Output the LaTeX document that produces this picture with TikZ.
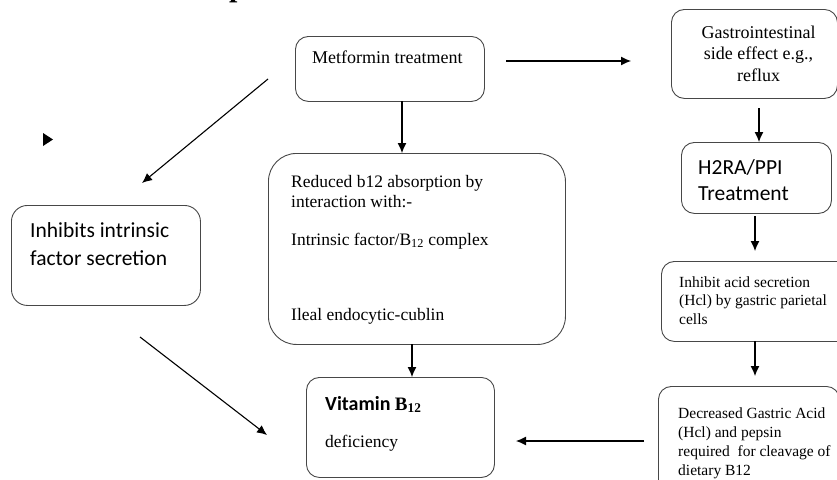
\documentclass[tikz,border=0pt]{standalone}
\usepackage{fontspec}
\setmainfont{Liberation Serif}
\newfontfamily\calfont{Carlito}
\usetikzlibrary{calc, positioning, arrows.meta}

\begin{document}
\begin{tikzpicture}[x=1pt, y=-1pt,
  box/.style = {draw=black!72, line width=0.9pt, rounded corners=13pt, inner sep=0pt, anchor=north west},
  txt/.style = {inner sep=0pt, anchor=base west, align=left},
  arr/.style = {-{Latex[length=10pt,width=9pt]}, line width=1.1pt}]
\clip (0,0) rectangle (837,479);
% boxes
\node[box, minimum width=189pt, minimum height=65pt] (met) at (295,36) {};
\node[box, minimum width=166pt, minimum height=89pt] (gi) at (671,9) {};
\node[box, minimum width=150pt, minimum height=71pt] (h2) at (681,142) {};
\node[box, minimum width=190pt, minimum height=80pt] (acid) at (661,261) {};
\node[box, minimum width=181pt, minimum height=110pt] (dec) at (658,386) {};
\node[box, rounded corners=28pt, minimum width=297pt, minimum height=191pt] (red) at (268,153) {};
\node[box, rounded corners=16pt, minimum width=189pt, minimum height=100pt] (inh) at (11,205) {};
\node[box, minimum width=188pt, minimum height=100pt] (vit) at (306,377) {};
% texts (multi-line ones sit on the baseline of their last line)
\node[txt, font=\bfseries\fontsize{30}{30}\selectfont] (ttl) at (229,-3) {p};
\node[txt, font=\fontsize{18}{20}\selectfont] (metT) at (312,63) {Metformin treatment};
\node[txt, anchor=base, align=center, font=\fontsize{18}{21.5}\selectfont] (giT) at (758.5,81)
  {Gastrointestinal\\ side effect e.g.,\\ reflux};
\node[txt, font=\calfont\fontsize{21.5}{26}\selectfont] (h2T) at (698,200) {H2RA/PPI\\ Treatment};
\node[txt, font=\calfont\fontsize{21.5}{28}\selectfont] (inhT) at (30,265) {Inhibits intrinsic\\ factor secretion};
\node[txt, font=\fontsize{17.5}{20}\selectfont] (redT) at (291,320)
  {Reduced b12 absorption by\\ interaction with:-\\[18pt]
   Intrinsic factor/B\textsubscript{12} complex\\[55pt] Ileal endocytic-cublin};
\node[txt, font=\fontsize{15.5}{18.5}\selectfont] (acidT) at (679,324)
  {Inhibit acid secretion\\ (Hcl) by gastric parietal\\ cells};
\node[txt, font=\fontsize{15.5}{18.7}\selectfont] (decT) at (678,475)
  {Decreased Gastric Acid\\ (Hcl) and pepsin\\ required\ \ for cleavage of\\ dietary B12};
\node[txt] (vitT) at (325,410)
  {{\calfont\bfseries\fontsize{20}{24}\selectfont Vitamin }{\bfseries\fontsize{19}{24}\selectfont B\textsubscript{12}}};
\node[txt, font=\fontsize{17.5}{20}\selectfont] (defT) at (325,447) {deficiency};
% free arrow ends
\coordinate (m0) at (506,61);  \coordinate (m9) at (631,61);
\coordinate (d0) at (268,79);  \coordinate (d9) at (142,183);
\coordinate (e0) at (140,337); \coordinate (e9) at (267,435);
\coordinate (m1) at (402,101);
\coordinate (r1) at (412,344);
\coordinate (g0) at (759,108);
\coordinate (p0) at (755,216); \coordinate (p9) at (755,251);
\coordinate (q0) at (755,341); \coordinate (q9) at (755,376);
\coordinate (k0) at (644,441); \coordinate (k9) at (516,441);
% arrows
\draw[arr] (m0) -- (m9);
\draw[arr] (d0) -- (d9);
\draw[arr] (e0) -- (e9);
\draw[arr] (m1) -- (m1 |- red.north);
\draw[arr] (r1) -- (r1 |- vit.north);
\draw[arr] (g0) -- (g0 |- h2.north);
\draw[arr] (p0) -- (p9);
\draw[arr] (q0) -- (q9);
\draw[arr] (k0) -- (k9);
\fill (43,133) -- (53,139.5) -- (43,146) -- cycle;
\end{tikzpicture}
\end{document}
